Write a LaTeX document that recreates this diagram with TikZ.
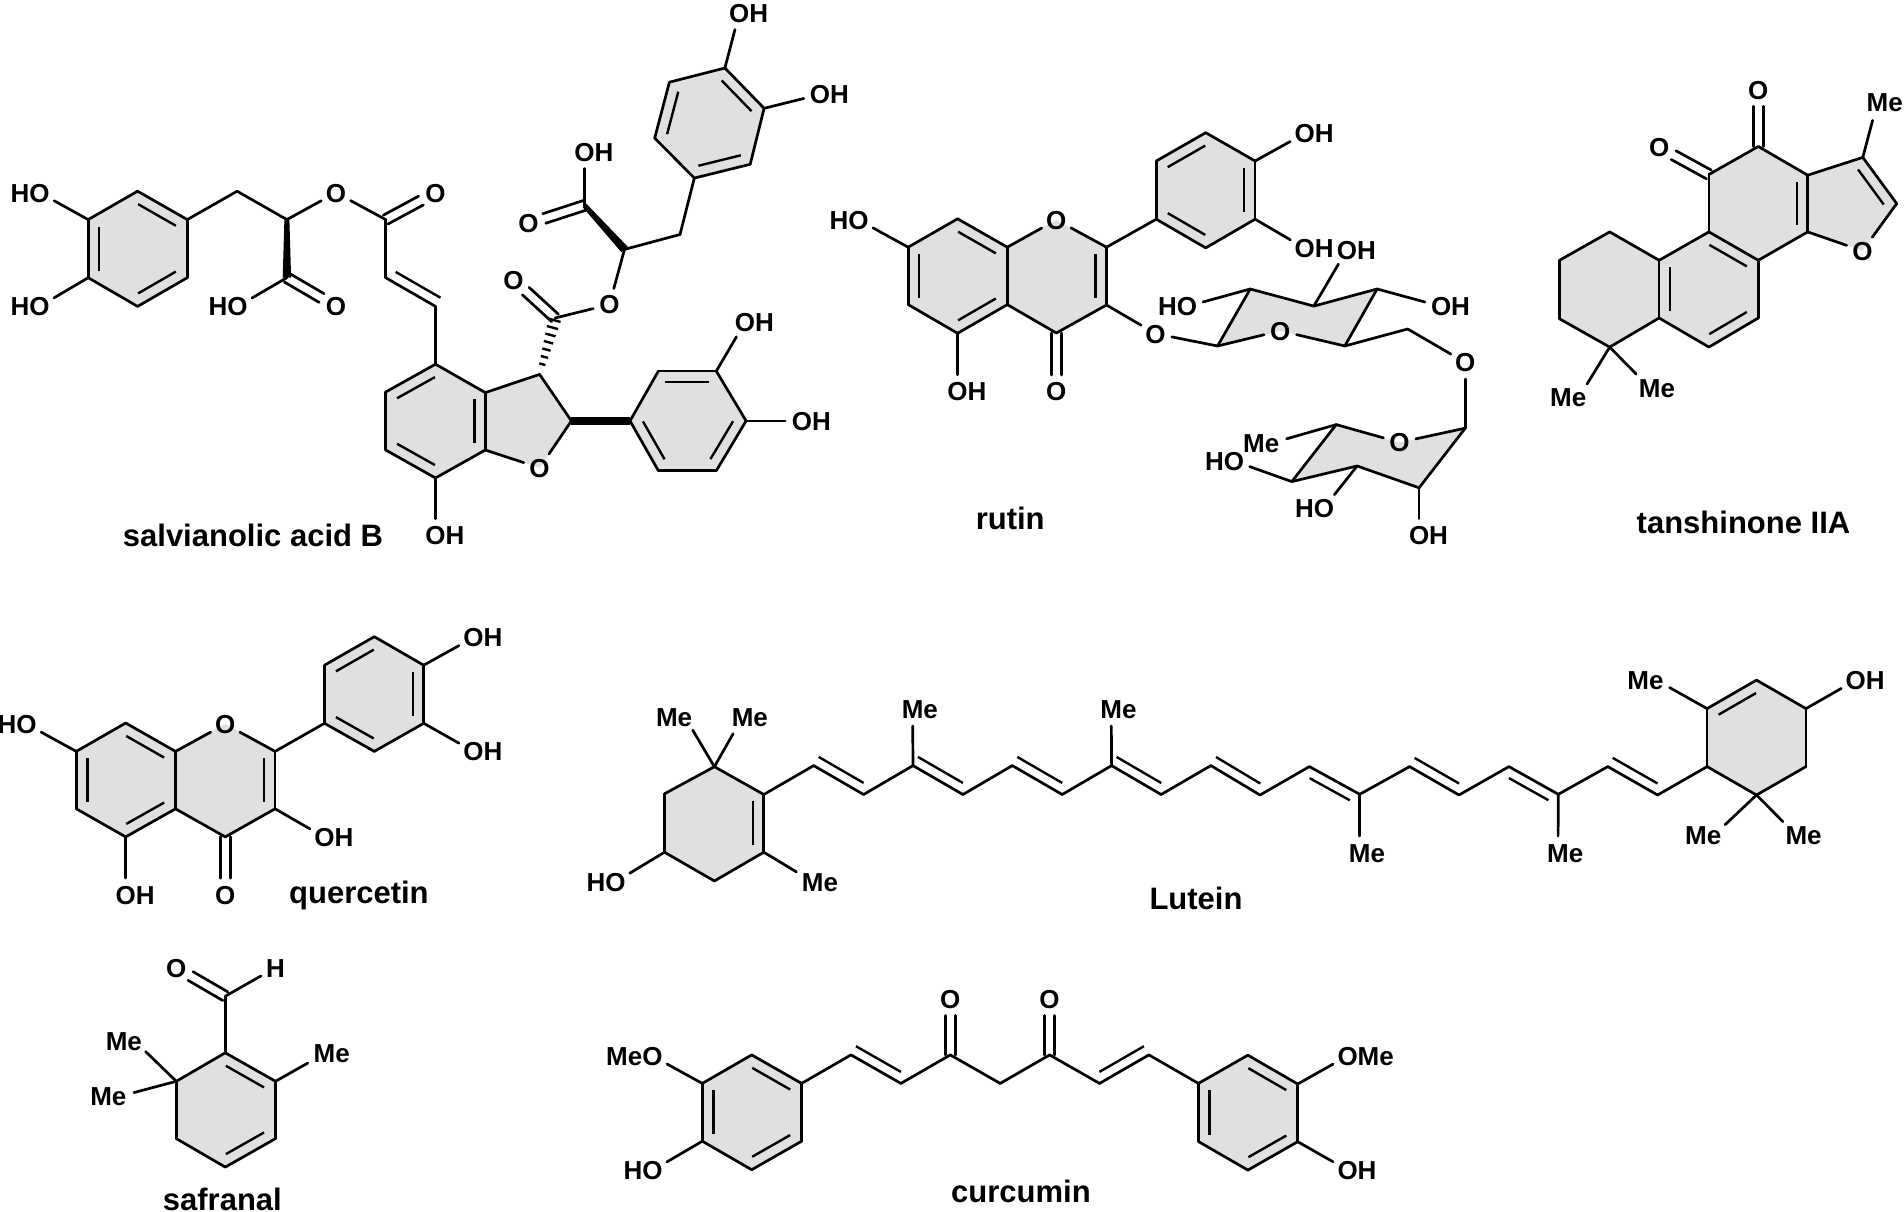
\documentclass[tikz,border=0pt]{standalone}
\usepackage{fontspec}
\setmainfont{Liberation Sans}
\usetikzlibrary{calc,backgrounds}
\definecolor{ringgray}{HTML}{E0E0E0}

% Labels whose bond aims at one letter only
\newcommand{\rOH}{O\rlap{H}}
\newcommand{\lHO}{\llap{H}O}
\newcommand{\rMe}{M\rlap{e}}
\newcommand{\lMe}{\llap{M}e}

% Inner line of a ring double bond, ring on the right of #1 -> #2
\newcommand{\ringdb}[2]{\draw[innerbond] ($(#1)!.12!(#2)!11pt!-90:(#2)$) -- ($(#1)!.88!(#2)!11pt!-90:(#2)$);}
% Inner line of a chain double bond: side angle #3, start fraction #4
\newcommand{\chaindb}[4]{\draw[innerbond] ($(#1)!#4!(#2)!10pt!#3:(#2)$) -- ($(#1)!.9!(#2)!10pt!#3:(#2)$);}
% C=O, two lines round the axis
\newcommand{\carbonyl}[2]{%
	\draw[bond,shorten >=16.5pt] ($(#1)!5pt!90:(#2)$) -- ($(#2)!5pt!-90:(#1)$);
	\draw[bond,shorten >=16.5pt] ($(#1)!5pt!-90:(#2)$) -- ($(#2)!5pt!90:(#1)$);}
\newcommand{\wedgeb}[2]{\fill ($(#1)!2.5pt!90:(#2)$) -- ($(#2)!4.2pt!-90:(#1)$) -- ($(#2)!4.2pt!90:(#1)$) -- ($(#1)!2.5pt!-90:(#2)$) -- cycle;}
\newcommand{\hashb}[2]{\foreach \k/\w in {.18/3.2,.31/3.7,.44/4.3,.57/4.8,.70/5.3,.83/5.8,.96/6.3}
	{\draw[innerbond] ($(#1)!\k!(#2)!\w pt!90:(#2)$) -- ($(#1)!\k!(#2)!\w pt!-90:(#2)$);}}

\begin{document}
\begin{tikzpicture}[x=1pt,y=-1pt]
	
	% Styles
	\tikzstyle{atom}=[circle,inner sep=0pt,minimum size=33pt,text height=18.6pt,text depth=0pt,font=\fontsize{26}{30}\selectfont\bfseries]
	\tikzstyle{atomM}=[atom,minimum size=38pt]
	\tikzstyle{atome}=[atom,minimum size=30pt]
	\tikzstyle{molname}=[inner sep=0pt,font=\fontsize{31}{36}\selectfont\bfseries]
	\tikzstyle{bond}=[line width=2.7pt,line cap=round,line join=round]
	\tikzstyle{innerbond}=[line width=2.4pt]
	\tikzstyle{boldbond}=[line width=8pt]
	\tikzstyle{ringfill}=[fill=ringgray]
	
	\useasboundingbox (0,0) rectangle (1904,1212);
	
	% salvianolic acid B: carbons
	\foreach \n/\x/\y in {sa1/88.2/219.6,sa2/137.6/191.2,sa3/187.3/219.6,sa4/187.3/277.7,sa5/137.6/306.4,sa6/88.2/277.7,
		sc1/237.1/191.2,sc2/286.9/219.6,sc3/385.7/219.6,sc4/385.7/277.7,sc5/435.5/306.4,sc6/286.9/277.7,
		sb1/435.5/364.2,sb2/485.3/392.6,sb3/485.3/450,sb4/435.5/478,sb5/385.7/450,sb6/385.7/392,
		sd1/539.6/374.4,sd2/571.4/420.9,
		se1/630/420.9,se2/658.4/371.1,se3/716.3/371.1,se4/746.1/420.9,se5/716.3/470.7,se6/658.4/470.7,
		sh1/555.1/318,sh2/624.5/249.4,sh3/680/234.5,sh4/584.5/205.4,
		sg1/694.3/178.1,sg2/654.7/138.1,sg3/669.4/82.2,sg4/724.9/68,sg5/764.1/108.3,sg6/750.2/164.3}
		\coordinate (\n) at (\x,\y);
	% salvianolic acid B: hetero atoms
	\foreach \n/\x/\y/\s in {so1/39.6/192.7/\lHO,so2/39.6/306.4/\lHO,so3/237.6/306.4/\lHO,so4/335.9/306.4/O,so5/335.9/192.7/O,so6/435.5/192.7/O,
		so7/435.5/535.4/\rOH,so8/539.6/467.8/O,so9/744.9/322.4/\rOH,so10/802/420.9/\rOH,so11/513.5/279.9/O,so12/609.4/304.6/O,
		so13/584.5/151.9/\rOH,so14/528.6/223.6/O,so15/739.2/13.4/\rOH,so16/820/94.5/\rOH}
		\node[atom] (\n) at (\x,\y) {\s};
	\node[molname] (sname) at (253,535.4) {salvianolic acid B};
	
	% rutin
	\foreach \n/\x/\y in {ra1/908.2/247.2,ra2/957.6/218.8,ra3/1007.3/247.2,ra4/1007.3/304.6,ra5/957.6/333.3,ra6/908.2/304.6,
		rc1/1106.5/247.2,rc2/1106.5/305,rc3/1056.3/333,
		rb1/1156.3/219.2,rb2/1156.3/161,rb3/1205.7/132.7,rb4/1255.1/161,rb5/1255.1/219.2,rb6/1205.7/247.9,
		rd1/1217.6/346,rd2/1250.2/289,rd3/1313.8/306.1,rd4/1377.1/289,rd5/1344.8/346,rd6/1407.7/329,
		re1/1465.2/428.2,re2/1336.2/424.6,re3/1291.8/481.6,re4/1357.1/466,re5/1419.1/487.8}
		\coordinate (\n) at (\x,\y);
	\foreach \n/\x/\y/\s in {ro1/858.4/219.9/\lHO,ro2/1056.3/219.9/O,ro3/957.6/391.5/\rOH,ro4/1056.3/391.5/O,ro5/1155.5/333.7/O,
		ro6/1304.8/133.4/\rOH,ro7/1304.8/248.3/\rOH,ro8/1186.9/306.4/\lHO,ro9/1280.3/330.8/O,ro10/1346.9/249.7/\rOH,ro11/1441.1/306.4/\rOH,
		ro12/1465.2/362.4/O,ro13/1399.5/442.4/O,ro14/1233.9/461/\lHO,ro15/1324/507.8/\lHO,ro16/1419.1/535.4/\rOH}
		\node[atom] (\n) at (\x,\y) {\s};
	\node[atome] (rm1) at (1272,443) {\lMe};
	\node[molname] (rname) at (1010.2,518) {rutin};
	
	% tanshinone IIA
	\foreach \n/\x/\y in {ta1/1758.3/146.5,ta2/1807.7/175.2,ta3/1807.7/231.9,ta4/1758.3/260.3,ta5/1708.9/231.9,ta6/1708.9/174.5,
		ta7/1862.8/157.4,ta8/1896.7/203.6,ta9/1758.3/318,ta10/1708.9/347.1,ta11/1659.1/318,ta12/1659.1/260.3,
		ta13/1609.7/231.9,ta14/1559.5/260.3,ta15/1559.5/318.8,ta16/1609.7/347.1}
		\coordinate (\n) at (\x,\y);
	\foreach \n/\x/\y in {to1/1758.3/89.8,to2/1659.1/147.2,to3/1862.4/250.8}
		\node[atom] (\n) at (\x,\y) {O};
	\node[atomM] (tm1) at (1877.5,101.8) {\rMe};
	\node[atome] (tm2) at (1579.1,397) {\lMe};
	\node[atomM] (tm3) at (1649.7,387.9) {\rMe};
	\node[molname] (tname) at (1743.5,522) {tanshinone IIA};
	
	% quercetin
	\foreach \n/\x/\y in {qa1/76.3/751.4,qa2/125.7/723,qa3/175.5/751.4,qa4/175.5/808.8,qa5/125.7/836.9,qa6/76.3/808.8,
		qc1/275.1/751.4,qc2/275.1/808.8,qc3/225.3/836.9,
		qb1/324.5/723.3,qb2/324.5/665.2,qb3/374.3/636.7,qb4/423.7/665.2,qb5/423.7/723.3,qb6/374.3/751.4}
		\coordinate (\n) at (\x,\y);
	\foreach \n/\x/\y/\s in {qo1/26.5/724.1/\lHO,qo2/225.3/724.1/O,qo3/125.7/894.7/\rOH,qo4/225.3/894.7/O,qo5/324.5/837.3/\rOH,
		qo6/473.5/637.5/\rOH,qo7/473.5/751.4/\rOH}
		\node[atom] (\n) at (\x,\y) {\s};
	\node[molname] (qname) at (358.9,895.2) {quercetin};
	
	% safranal
	\foreach \n/\x/\y in {sf0/225.3/996.2,sf1/225.3/1052.8,sf2/275.5/1081.3,sf3/275.5/1138.6,sf4/225.3/1167.1,sf5/176.3/1138.6,sf6/176.3/1081.3}
		\coordinate (\n) at (\x,\y);
	\node[atom] (fo1) at (176.3,967.7) {O};
	\node[atom] (fh1) at (275.5,967.7) {H};
	\node[atomM] (fm1) at (324.5,1053.6) {\rMe};
	\node[atome] (fm2) at (134.7,1041) {\lMe};
	\node[atome] (fm3) at (119.2,1096.5) {\lMe};
	\node[molname] (fname) at (222.4,1199) {safranal};
	
	% Lutein
	\foreach \n/\x/\y in {la1/714.4/766.7,la2/763.8/794.5,la3/763.8/852.2,la4/714.4/881,la5/664.5/852.2,la6/664.5/793.8,
		lc1/813.7/765.6,lc2/863.6/794.5,lc3/913/765.6,lc4/962.9/794.5,lc5/1012.3/765.6,lc6/1062.2/794.5,lc7/1111.6/765.6,lc8/1161.1/794.5,lc9/1210.9/765.6,
		lc10/1260/795,lc11/1309.4/766.6,lc12/1359.7/794.3,lc13/1409.6/766.6,lc14/1459/795,lc15/1508.9/766.6,lc16/1558.3/794.3,lc17/1607.8/766.6,lc18/1657.6/795,
		lb1/1707.1/766.6,lb2/1707.1/708.6,lb3/1756.5/680.1,lb4/1806/708.6,lb5/1806/766.6,lb6/1756.5/795}
		\coordinate (\n) at (\x,\y);
	\node[atome] (lm1) at (684.9,717) {\lMe};
	\node[atomM] (lm2) at (742.6,717) {\rMe};
	\node[atomM] (lm3) at (812.8,881.8) {\rMe};
	\node[atom] (lm4) at (912.6,709.3) {\rMe};
	\node[atom] (lm5) at (1111.2,709.3) {\rMe};
	\node[atom] (lm6) at (1359.7,852.7) {\rMe};
	\node[atom] (lm7) at (1558,852.7) {\rMe};
	\node[atome] (lm8) at (1656.3,680.1) {\lMe};
	\node[atome] (lm9) at (1714,835.2) {\lMe};
	\node[atomM] (lm10) at (1796.4,835.2) {\rMe};
	\node[atom] (lo1) at (615.5,881.8) {\lHO};
	\node[atom] (lo2) at (1855.8,680.1) {\rOH};
	\node[molname] (lname) at (1196,898.6) {Lutein};
	
	% curcumin
	\foreach \n/\x/\y in {cl1/702.3/1083.4,cl2/751.7/1054.9,cl3/801.6/1083.4,cl4/801.6/1141.2,cl5/751.7/1169.7,cl6/702.3/1141.2,
		cc1/851/1054.9,cc2/900.9/1083.4,cc3/950.3/1054.9,cc4/1000.2/1083.4,cc5/1049.6/1054.9,cc6/1099.5/1083.4,cc7/1148.9/1054.9,
		cr1/1198.4/1083.4,cr2/1247.9/1055.2,cr3/1297.7/1084,cr4/1297.7/1141.7,cr5/1247.9/1170.1,cr6/1198.4/1141.5}
		\coordinate (\n) at (\x,\y);
	\foreach \n/\x/\y/\s in {co1/950.3/999/O,co2/1049.6/999/O,co3/652.4/1056/\llap{Me}O,co4/652.4/1170.4/\lHO,co5/1347.6/1055.9/O\rlap{Me},co6/1347.6/1170.1/\rOH}
		\node[atom] (\n) at (\x,\y) {\s};
	\node[molname] (cname) at (1021,1191) {curcumin};
	
	% Grey ring areas
	\begin{scope}[on background layer]
		\fill[ringfill] (sa1) -- (sa2) -- (sa3) -- (sa4) -- (sa5) -- (sa6) -- cycle;
		\fill[ringfill] (sb1) -- (sb2) -- (sd1) -- (sd2) -- (so8.center) -- (sb3) -- (sb4) -- (sb5) -- (sb6) -- cycle;
		\fill[ringfill] (se1) -- (se2) -- (se3) -- (se4) -- (se5) -- (se6) -- cycle;
		\fill[ringfill] (sg1) -- (sg2) -- (sg3) -- (sg4) -- (sg5) -- (sg6) -- cycle;
		\fill[ringfill] (ra1) -- (ra2) -- (ra3) -- (ro2.center) -- (rc1) -- (rc2) -- (rc3) -- (ra4) -- (ra5) -- (ra6) -- cycle;
		\fill[ringfill] (rb1) -- (rb2) -- (rb3) -- (rb4) -- (rb5) -- (rb6) -- cycle;
		\fill[ringfill] (rd1) -- (rd2) -- (rd3) -- (rd4) -- (rd5) -- (ro9.center) -- cycle;
		\fill[ringfill] (re1) -- (ro13.center) -- (re2) -- (re3) -- (re4) -- (re5) -- cycle;
		\fill[ringfill] (ta1) -- (ta2) -- (ta7) -- (ta8) -- (to3.center) -- (ta3) -- (ta4) -- (ta9) -- (ta10) -- (ta11) -- (ta16) -- (ta15) -- (ta14) -- (ta13) -- (ta12) -- (ta5) -- (ta6) -- cycle;
		\fill[ringfill] (qa1) -- (qa2) -- (qa3) -- (qo2.center) -- (qc1) -- (qc2) -- (qc3) -- (qa4) -- (qa5) -- (qa6) -- cycle;
		\fill[ringfill] (qb1) -- (qb2) -- (qb3) -- (qb4) -- (qb5) -- (qb6) -- cycle;
		\fill[ringfill] (sf1) -- (sf2) -- (sf3) -- (sf4) -- (sf5) -- (sf6) -- cycle;
		\fill[ringfill] (la1) -- (la2) -- (la3) -- (la4) -- (la5) -- (la6) -- cycle;
		\fill[ringfill] (lb1) -- (lb2) -- (lb3) -- (lb4) -- (lb5) -- (lb6) -- cycle;
		\fill[ringfill] (cl1) -- (cl2) -- (cl3) -- (cl4) -- (cl5) -- (cl6) -- cycle;
		\fill[ringfill] (cr1) -- (cr2) -- (cr3) -- (cr4) -- (cr5) -- (cr6) -- cycle;
	\end{scope}
	
	% Single bonds
	\foreach \a/\b in {sa1/sa2,sa2/sa3,sa3/sa4,sa4/sa5,sa5/sa6,sa6/sa1,sa1/so1,sa6/so2,sa3/sc1,sc1/sc2,sc2/so5,so5/sc3,sc3/sc4,sc4/sc5,sc5/sb1,sc6/so3,
		sb1/sb2,sb2/sb3,sb3/sb4,sb4/sb5,sb5/sb6,sb6/sb1,sb2/sd1,sd1/sd2,sd2/so8,so8/sb3,sb4/so7,
		se1/se2,se2/se3,se3/se4,se4/se5,se5/se6,se6/se1,se3/so9,se4/so10,
		sh1/so12,so12/sh2,sh2/sh3,sh3/sg1,sh4/so13,sg1/sg2,sg2/sg3,sg3/sg4,sg4/sg5,sg5/sg6,sg6/sg1,sg4/so15,sg5/so16}
		\draw[bond] (\a) -- (\b);
	\foreach \a/\b in {ra1/ra2,ra2/ra3,ra3/ra4,ra4/ra5,ra5/ra6,ra6/ra1,ra3/ro2,ro2/rc1,rc1/rc2,rc2/rc3,rc3/ra4,ra1/ro1,ra5/ro3,rc2/ro5,rc1/rb1,
		rb1/rb2,rb2/rb3,rb3/rb4,rb4/rb5,rb5/rb6,rb6/rb1,rb4/ro6,rb5/ro7,ro5/rd1,
		rd1/rd2,rd2/rd3,rd3/rd4,rd4/rd5,rd5/ro9,ro9/rd1,rd2/ro8,rd3/ro10,rd4/ro11,rd5/rd6,rd6/ro12,ro12/re1,
		re1/ro13,ro13/re2,re2/re3,re3/re4,re4/re5,re5/re1,re2/rm1,re3/ro14,re4/ro15,re5/ro16}
		\draw[bond] (\a) -- (\b);
	\foreach \a/\b in {ta1/ta2,ta2/ta3,ta3/ta4,ta4/ta5,ta5/ta6,ta6/ta1,ta2/ta7,ta7/ta8,ta8/to3,to3/ta3,ta4/ta9,ta9/ta10,ta10/ta11,ta11/ta12,ta12/ta5,
		ta12/ta13,ta13/ta14,ta14/ta15,ta15/ta16,ta16/ta11,ta7/tm1,ta16/tm2,ta16/tm3}
		\draw[bond] (\a) -- (\b);
	\foreach \a/\b in {qa1/qa2,qa2/qa3,qa3/qa4,qa4/qa5,qa5/qa6,qa6/qa1,qa3/qo2,qo2/qc1,qc1/qc2,qc2/qc3,qc3/qa4,qa1/qo1,qa5/qo3,qc2/qo5,qc1/qb1,
		qb1/qb2,qb2/qb3,qb3/qb4,qb4/qb5,qb5/qb6,qb6/qb1,qb4/qo6,qb5/qo7,
		sf0/sf1,sf0/fh1,sf1/sf2,sf2/sf3,sf3/sf4,sf4/sf5,sf5/sf6,sf6/sf1,sf2/fm1,sf6/fm2,sf6/fm3}
		\draw[bond] (\a) -- (\b);
	\foreach \a/\b in {la1/la2,la2/la3,la3/la4,la4/la5,la5/la6,la6/la1,la1/lm1,la1/lm2,la3/lm3,la5/lo1,la2/lc1,lc3/lm4,lc7/lm5,lc12/lm6,lc16/lm7,lc18/lb1,
		lb1/lb2,lb2/lb3,lb3/lb4,lb4/lb5,lb5/lb6,lb6/lb1,lb2/lm8,lb4/lo2,lb6/lm9,lb6/lm10}
		\draw[bond] (\a) -- (\b);
	\foreach \i [count=\j from 2] in {1,...,17}
		\draw[bond] (lc\i) -- (lc\j);
	\foreach \a/\b in {cl1/cl2,cl2/cl3,cl3/cl4,cl4/cl5,cl5/cl6,cl6/cl1,cl1/co3,cl6/co4,cl3/cc1,cc1/cc2,cc2/cc3,cc3/cc4,cc4/cc5,cc5/cc6,cc6/cc7,cc7/cr1,
		cr1/cr2,cr2/cr3,cr3/cr4,cr4/cr5,cr5/cr6,cr6/cr1,cr3/co5,cr4/co6}
		\draw[bond] (\a) -- (\b);
	
	% Inner lines of the ring double bonds
	\foreach \a/\b in {sa2/sa3,sa4/sa5,sa6/sa1,sb6/sb1,sb2/sb3,sb4/sb5,se2/se3,se4/se5,se6/se1,sg2/sg3,sg4/sg5,sg6/sg1,
		ra2/ra3,ra4/ra5,ra6/ra1,rc1/rc2,rb2/rb3,rb4/rb5,rb6/rb1,
		ta2/ta3,ta7/ta8,ta5/ta4,ta9/ta10,ta11/ta12,
		qa2/qa3,qa4/qa5,qa6/qa1,qc1/qc2,qb2/qb3,qb4/qb5,qb6/qb1,
		sf1/sf2,sf3/sf4,la2/la3,lb2/lb3,
		cl2/cl3,cl4/cl5,cl6/cl1,cr2/cr3,cr4/cr5,cr6/cr1}
		{\ringdb{\a}{\b}}
	
	% Inner lines of the chain double bonds
	\foreach \a/\b/\s/\f in {sc5/sc4/-90/0,lc1/lc2/90/0,lc3/lc4/90/0,lc5/lc6/90/0,lc7/lc8/90/0,lc9/lc10/90/0,lc11/lc12/-90/.1,lc13/lc14/90/0,lc15/lc16/-90/.1,lc17/lc18/90/0,
		cc1/cc2/90/0,cc7/cc6/-90/0}
		{\chaindb{\a}{\b}{\s}{\f}}
	
	% C=O bonds
	\foreach \a/\b in {sc3/so6,sc6/so4,sh1/so11,sh4/so14,rc3/ro4,ta1/to1,ta6/to2,qc3/qo4,sf0/fo1,cc3/co1,cc5/co2}
		{\carbonyl{\a}{\b}}
	
	% Wedge and hash bonds
	\wedgeb{sc2}{sc6}
	\wedgeb{sh4}{sh2}
	\draw[boldbond] (sd2) -- (se1);
	\hashb{sd1}{sh1}
	
\end{tikzpicture}
\end{document}
